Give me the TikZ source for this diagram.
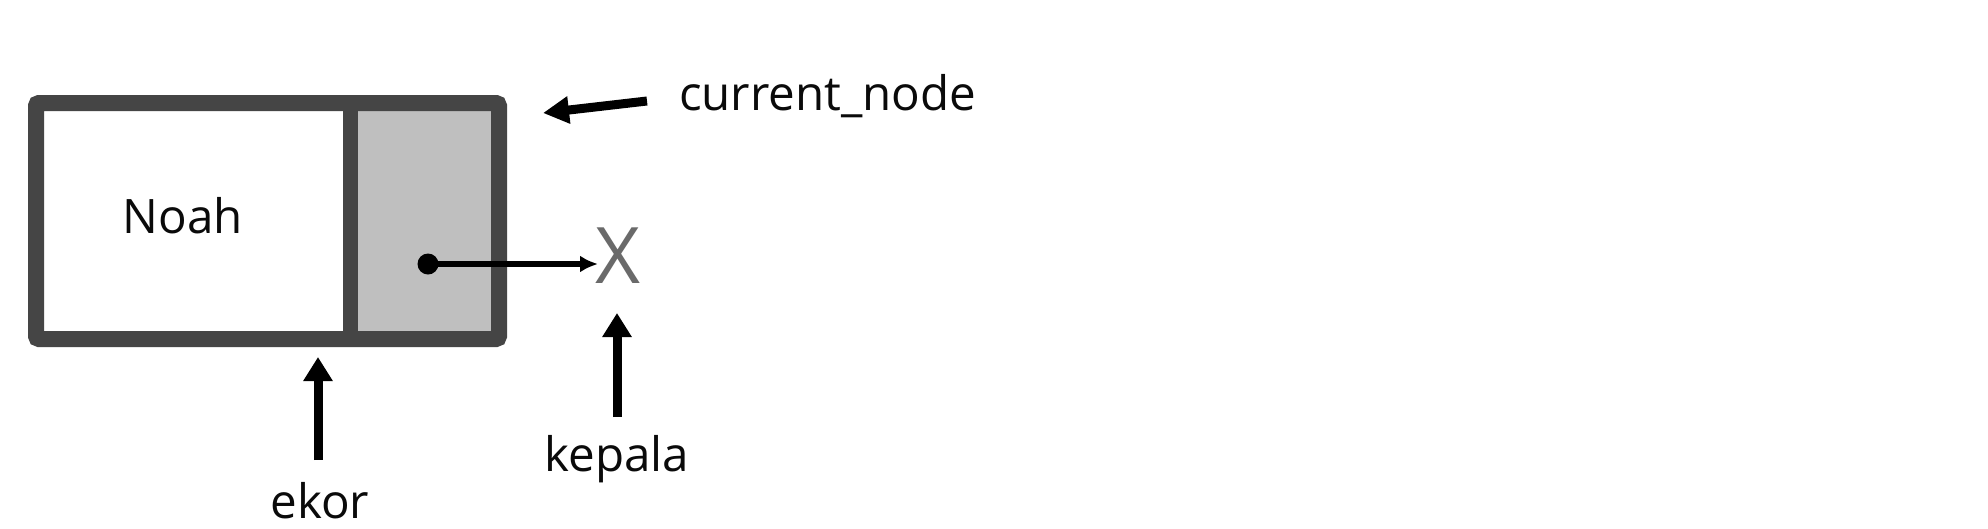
\documentclass[tikz,border=0pt]{standalone}
\usepackage{fontspec}
\setmainfont{Open Sans}
\usetikzlibrary{arrows.meta}
\definecolor{boxedge}{HTML}{454545}
\definecolor{cellgray}{HTML}{BFBFBF}
\definecolor{xgray}{HTML}{6A6A6A}
\definecolor{ink}{HTML}{0A0A0A}
\tikzset{
  lbl/.style={inner sep=0pt, anchor=base, text=ink, font=\fontsize{47.5}{50}\selectfont},
  fatarrow/.style={draw=black, line width=9pt, -{Triangle[length=24pt,width=28pt]}},
  thinarrow/.style={draw=black, line width=5.5pt, -{Latex[length=18pt,width=17pt]}},
  cell/.style={line width=16pt, draw=boxedge, rounded corners=3pt}
}
\begin{document}
\begin{tikzpicture}[x=1pt,y=-1pt]
\useasboundingbox (0,0) rectangle (1988,528);
\fill[white] (0,0) rectangle (1988,528);
% node cells
\fill[cellgray] (350,103) rectangle (499,339);
\draw[boxedge, line width=15pt] (350.5,103) -- (350.5,339);
\draw[cell] (36,103) rectangle (499,339);
% named points
\coordinate (ptr) at (428,264);
\coordinate (boxcorner) at (543,113);
\coordinate (cntail) at (647,101);
\coordinate (ktail) at (617,417);
\coordinate (khead) at (617,313);
\coordinate (etail) at (318,460);
\coordinate (ehead) at (318,357);
\coordinate (nilw) at (598,264);
% texts
\node[lbl] (data) at (183,233) {Noah};
\node[lbl, anchor=base west] (cur) at (679,110) {current\_node};
\node[lbl] (kepala) at (617,471) {kepala};
\node[lbl] (ekor) at (320,518) {ekor};
\node[inner sep=0pt, anchor=base, text=xgray, font=\fontsize{78}{80}\selectfont] (nil) at (618.5,283) {X};
% connectors
\fill[black] (ptr) circle (10.5pt);
\draw[thinarrow] (ptr) -- (nilw);
\draw[draw=black, line width=9pt, -{Triangle[length=26pt,width=26pt]}] (cntail) -- (boxcorner);
\draw[fatarrow] (ktail) -- (khead);
\draw[fatarrow] (etail) -- (ehead);
\end{tikzpicture}
\end{document}
